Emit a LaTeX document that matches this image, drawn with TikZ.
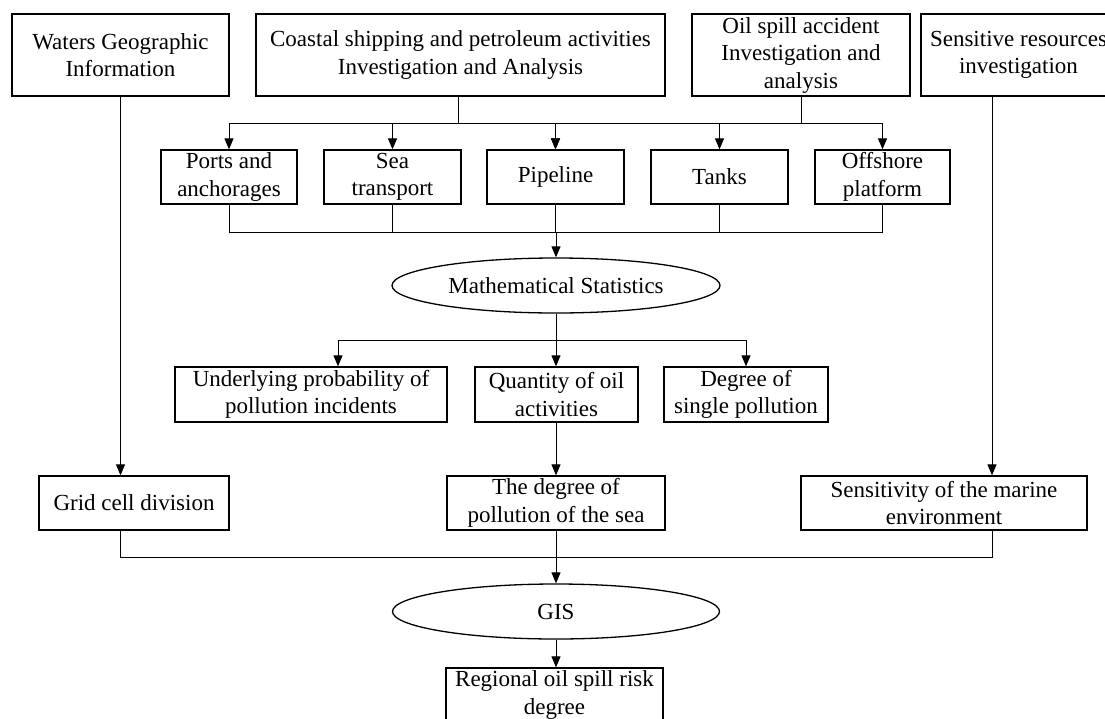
\documentclass[tikz,border=0pt]{standalone}
\usepackage{fontspec}
\setmainfont{Liberation Serif}
\usetikzlibrary{arrows.meta,shapes.geometric}
\begin{document}
\begin{tikzpicture}[x=1pt,y=-1pt,
  box/.style={draw,line width=1.3pt,inner sep=0pt,align=center,
    font=\fontsize{23}{27.5}\selectfont},
  oval/.style={draw,ellipse,line width=1.3pt,inner sep=0pt,
    font=\fontsize{23}{27.5}\selectfont},
  conn/.style={line width=1pt},
  arr/.style={conn,-{Triangle[length=11pt,width=9pt]}}]
\useasboundingbox (0,0) rectangle (1105,718);
\fill[white] (0,0) rectangle (1105,718);
\clip (0,0) rectangle (1105,718);
% top row
\node[box,minimum width=217,minimum height=82] (waters) at (120.5,55) {Waters Geographic\\Information};
\node[box,minimum width=409,minimum height=82] (coastal) at (460.5,55) {Coastal shipping and petroleum activities\\Investigation and Analysis};
\node[box,minimum width=218,minimum height=82] (oil) at (801,55) {Oil spill accident\\Investigation and\\analysis};
\node[box,minimum width=195,minimum height=82] (sensitive) at (1018.5,55) {Sensitive resources\\investigation};
% second row
\node[box,minimum width=136,minimum height=54] (ports) at (229,177) {Ports and\\anchorages};
\node[box,minimum width=137,minimum height=54] (sea) at (392.5,177) {Sea\\transport};
\node[box,minimum width=137,minimum height=54] (pipe) at (555.5,177) {Pipeline};
\node[box,minimum width=137,minimum height=54] (tanks) at (719.5,177) {Tanks};
\node[box,minimum width=135,minimum height=54] (offshore) at (882.5,177) {Offshore\\platform};
% statistics
\node[oval,minimum width=328,minimum height=55] (math) at (556,285.5) {Mathematical Statistics};
% third row
\node[box,minimum width=272,minimum height=55] (under) at (311,394.5) {Underlying probability of\\pollution incidents};
\node[box,minimum width=163,minimum height=55] (quant) at (556.5,394.5) {Quantity of oil\\activities};
\node[box,minimum width=164,minimum height=55] (degree) at (746,394.5) {Degree of\\single pollution};
% fourth row
\node[box,minimum width=190,minimum height=54] (grid) at (134,503) {Grid cell division};
\node[box,minimum width=218,minimum height=54] (poll) at (556,503) {The degree of\\pollution of the sea};
\node[box,minimum width=286,minimum height=54] (sensm) at (944,503) {Sensitivity of the marine\\environment};
% GIS
\node[oval,minimum width=327,minimum height=55] (gis) at (556,611.5) {GIS};
\node[box,minimum width=217,minimum height=54] (final) at (554.5,695) {Regional oil spill risk\\degree};
% bus coordinates
\coordinate (c1) at (458,123);
\coordinate (o1) at (801,123);
\coordinate (b2) at (556,232);
\coordinate (b3) at (556,340);
\coordinate (b4) at (556,557);
\coordinate (sx) at (992,0);
% coastal -> ports, sea, pipeline
\draw[arr] (coastal.south -| c1) -- (c1) -| (ports.north);
\draw[arr] (coastal.south -| c1) -- (c1) -| (sea.north);
\draw[arr] (coastal.south -| c1) -- (c1) -| (pipe.north);
% oil -> pipeline, tanks, offshore
\draw[arr] (oil.south) -- (o1) -| (pipe.north);
\draw[arr] (oil.south) -- (o1) -| (tanks.north);
\draw[arr] (oil.south) -- (o1) -| (offshore.north);
% second row -> statistics
\draw[conn] (ports.south) |- (b2);
\draw[conn] (sea.south) |- (b2);
\draw[conn] (pipe.south) |- (b2);
\draw[conn] (tanks.south) |- (b2);
\draw[conn] (offshore.south) |- (b2);
\draw[arr] (b2) -- (math.north);
% statistics -> third row
\draw[conn] (math.south) -- (b3);
\draw[arr] (b3) -| ([xshift=27pt]under.north);
\draw[arr] (b3) -- (b3 |- quant.north);
\draw[arr] (b3) -| (degree.north);
% to fourth row
\draw[arr] (waters.south) -- (waters.south |- grid.north);
\draw[arr] (b3 |- quant.south) -- (b3 |- poll.north);
\draw[arr] (sensitive.south -| sx) -- (sensm.north -| sx);
% fourth row -> GIS
\draw[conn] (grid.south -| waters.south) |- (b4);
\draw[conn] (sensm.south -| sx) |- (b4);
\draw[arr] (poll.south) -- (gis.north);
\draw[arr] (gis.south) -- (gis.south |- final.north);
\end{tikzpicture}
\end{document}
